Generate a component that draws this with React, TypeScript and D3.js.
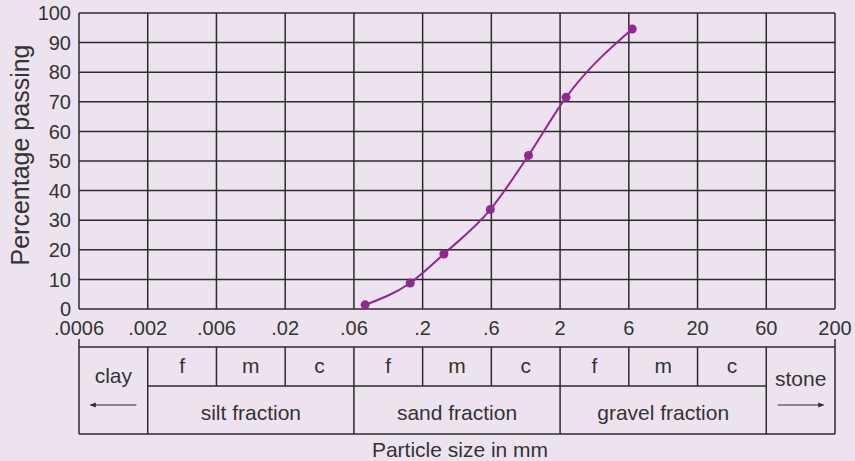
import React from 'react';
import * as d3 from 'd3';

// sieve sizes along the bottom (mm), drawn evenly spaced
const sizeTicks = [0.0006, 0.002, 0.006, 0.02, 0.06, 0.2, 0.6, 2, 6, 20, 60, 200];
const sizeLabels = ['.0006', '.002', '.006', '.02', '.06', '.2', '.6', '2', '6', '20', '60', '200'];
const percentTicks = [0, 10, 20, 30, 40, 50, 60, 70, 80, 90, 100];

// grading curve
const particleSize = [0.073, 0.161, 0.281, 0.59, 1.15, 2.2, 6.37];
const percentPassing = [1.4, 8.8, 18.6, 33.6, 51.9, 71.5, 94.6];

const fractions = ['silt fraction', 'sand fraction', 'gravel fraction'];
const subFractions = ['f', 'm', 'c'];

const W = 855;
const H = 461;
const margin = { top: 13, right: 20, bottom: 152, left: 79 };
const bg = '#ede3ef';
const ink = '#2b2b2b';
const textCol = '#333333';
const purple = '#93278f';
const font = 'Liberation Sans, Arial, sans-serif';

export default function App() {
  const x0 = margin.left;
  const x1 = W - margin.right;
  const y0 = H - margin.bottom;
  const y1 = margin.top;

  const step = (x1 - x0) / (sizeTicks.length - 1);
  const x = d3.scaleLog()
    .domain(sizeTicks)
    .range(sizeTicks.map((_, i) => x0 + i * step));
  const y = d3.scaleLinear().domain([0, 100]).range([y0, y1]);

  const pts: [number, number][] = particleSize.map((s, i) => [x(s), y(percentPassing[i])]);
  const line = d3.line().curve(d3.curveMonotoneX)(pts) || '';

  // table under the axis
  const tTop = 347;
  const tMid = 386;
  const tBot = 434;

  return (
    <svg width={W} height={H} style={{ position: 'absolute', left: 0, top: 0, background: bg }}>
      <defs>
        <marker id="ah" viewBox="0 0 10 10" refX="9" refY="5" markerWidth="6" markerHeight="5" orient="auto-start-reverse">
          <path d="M0,1 L10,5 L0,9 z" fill={ink} />
        </marker>
      </defs>
      <rect width={W} height={H} fill={bg} />

      {/* grid */}
      {percentTicks.map(p => (
        <line key={'h' + p} x1={x0} x2={x1} y1={y(p)} y2={y(p)} stroke={ink} strokeWidth={1.5} />
      ))}
      {sizeTicks.map(s => (
        <line key={'v' + s} x1={x(s)} x2={x(s)} y1={y1} y2={y0} stroke={ink} strokeWidth={1.5} />
      ))}

      {/* y labels */}
      {percentTicks.map(p => (
        <text key={'yl' + p} x={x0 - 8} y={y(p)} dy="0.36em" textAnchor="end"
          fontFamily={font} fontSize={20} fill={textCol}>{p}</text>
      ))}
      <text transform={`translate(29,155) rotate(-90)`} textAnchor="middle"
        fontFamily={font} fontSize={25} fill={textCol}>Percentage passing</text>

      {/* x labels */}
      {sizeTicks.map((s, i) => (
        <text key={'xl' + s} x={x(s)} y={335} textAnchor="middle"
          fontFamily={font} fontSize={20} fill={textCol}>{sizeLabels[i]}</text>
      ))}

      {/* curve */}
      <path d={line} fill="none" stroke={purple} strokeWidth={2} />
      {pts.map((p, i) => (
        <circle key={'pt' + i} cx={p[0]} cy={p[1]} r={4.5} fill={purple} />
      ))}

      {/* classification table */}
      <line x1={x0} x2={x0} y1={339} y2={tBot} stroke={ink} strokeWidth={1.5} />
      <line x1={x1} x2={x1} y1={339} y2={tBot} stroke={ink} strokeWidth={1.5} />
      <line x1={x0} x2={x1} y1={tTop} y2={tTop} stroke={ink} strokeWidth={1.5} />
      <line x1={x0} x2={x1} y1={tBot} y2={tBot} stroke={ink} strokeWidth={1.5} />
      <line x1={x(sizeTicks[1])} x2={x(sizeTicks[10])} y1={tMid} y2={tMid} stroke={ink} strokeWidth={1.5} />
      {sizeTicks.slice(1, 11).map((s, i) => (
        <line key={'tc' + s} x1={x(s)} x2={x(s)} y1={tTop} y2={i % 3 === 0 ? tBot : tMid}
          stroke={ink} strokeWidth={1.5} />
      ))}
      {sizeTicks.slice(1, 10).map((s, i) => (
        <text key={'sf' + s} x={x(s) + step / 2} y={373} textAnchor="middle"
          fontFamily={font} fontSize={21} fill={textCol}>{subFractions[i % 3]}</text>
      ))}
      {fractions.map((f, i) => (
        <text key={f} x={x(sizeTicks[1 + i * 3]) + step * 1.5} y={420} textAnchor="middle"
          fontFamily={font} fontSize={21} fill={textCol}>{f}</text>
      ))}
      <text x={x0 + step / 2} y={383} textAnchor="middle" fontFamily={font} fontSize={21} fill={textCol}>clay</text>
      <line x1={x0 + step / 2 + 23} x2={x0 + step / 2 - 23} y1={405} y2={405} stroke={ink} strokeWidth={1.2} markerEnd="url(#ah)" />
      <text x={x1 - step / 2} y={386} textAnchor="middle" fontFamily={font} fontSize={21} fill={textCol}>stone</text>
      <line x1={x1 - step / 2 - 23} x2={x1 - step / 2 + 23} y1={405} y2={405} stroke={ink} strokeWidth={1.2} markerEnd="url(#ah)" />

      <text x={(x0 + x1) / 2 + 3} y={457} textAnchor="middle" fontFamily={font} fontSize={21} fill={textCol}>Particle size in mm</text>
    </svg>
  );
}
